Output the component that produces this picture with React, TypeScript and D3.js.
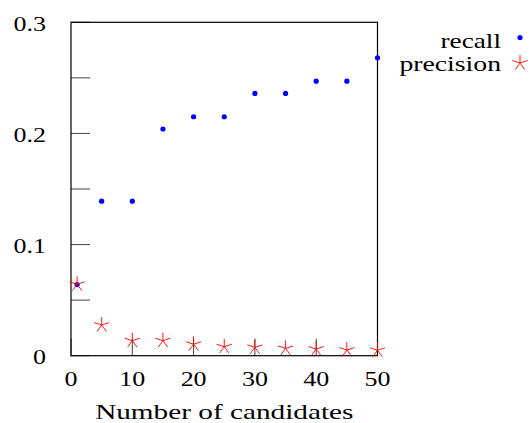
import { useEffect, useRef } from 'react'
import * as d3 from 'd3'

// candidate counts on the x axis
const candidates = [1, 5, 10, 15, 20, 25, 30, 35, 40, 45, 50]
const recall = [0.064, 0.139, 0.139, 0.204, 0.215, 0.215, 0.236, 0.236, 0.247, 0.247, 0.268]
const precision = [0.0643, 0.0276, 0.0135, 0.0135, 0.0103, 0.0081, 0.0075, 0.0066, 0.006, 0.0051, 0.0049]

const xTicks = [0, 10, 20, 30, 40, 50]
const yTicks = [0, 0.05, 0.1, 0.15, 0.2, 0.25, 0.3]
const yLabels = [0, 0.1, 0.2, 0.3]
const seriesNames = ['recall', 'precision']

const W = 532, H = 423
const M = { left: 71, right: 154.5, top: 22.3, bottom: 67.3 }
const FONT = 'Liberation Serif, serif'
const FS = 22

// 5-armed asterisk, like the gnuplot/tikz star mark
function starPath(cx: number, cy: number, r: number) {
  let d = ''
  for (let k = 0; k < 5; k++) {
    const a = -Math.PI / 2 + (k * 2 * Math.PI) / 5
    d += `M${cx},${cy}L${cx + r * Math.cos(a)},${cy + r * Math.sin(a)}`
  }
  return d
}

export default function App() {
  const ref = useRef<SVGSVGElement>(null)

  useEffect(() => {
    const svg = d3.select(ref.current)
    svg.selectAll('*').remove()

    const iw = W - M.left - M.right
    const ih = H - M.top - M.bottom
    const x = d3.scaleLinear().domain([0, 50]).range([M.left, M.left + iw])
    const y = d3.scaleLinear().domain([0, 0.3]).range([M.top + ih, M.top])

    // the source text is stretched horizontally, so squash/stretch per label
    const label = (tx: number, ty: number, s: string, anchor: string, sx: number) =>
      svg.append('text')
        .attr('transform', `translate(${tx},${ty}) scale(${sx},1)`)
        .attr('text-anchor', anchor)
        .attr('dominant-baseline', 'central')
        .attr('font-family', FONT).attr('font-size', FS)
        .attr('fill', '#000')
        .text(s)

    // ticks (inward)
    yTicks.forEach(t => {
      svg.append('line')
        .attr('x1', x(0)).attr('x2', x(0) + 19)
        .attr('y1', y(t)).attr('y2', y(t))
        .attr('stroke', '#444').attr('stroke-width', 1)
    })
    xTicks.forEach(t => {
      svg.append('line')
        .attr('x1', x(t)).attr('x2', x(t))
        .attr('y1', y(0)).attr('y2', y(0) - 17)
        .attr('stroke', '#444').attr('stroke-width', 1)
    })

    // frame
    svg.append('rect')
      .attr('x', x(0)).attr('y', y(0.3))
      .attr('width', iw).attr('height', ih)
      .attr('fill', 'none').attr('stroke', '#000').attr('stroke-width', 1.2)

    yLabels.forEach(t => label(46, y(t) + 1, String(t), 'end', 1.18))
    xTicks.forEach(t => label(x(t), y(0) + 23, String(t), 'middle', 1.18))
    label((x(0) + x(50)) / 2, 412, 'Number of candidates', 'middle', 1.33)

    // recall: filled blue dots
    svg.append('g').selectAll('circle')
      .data(candidates)
      .join('circle')
      .attr('cx', d => x(d))
      .attr('cy', (d, i) => y(recall[i]))
      .attr('r', 2.6)
      .attr('fill', '#0000ff')

    // precision: red stars
    svg.append('g').selectAll('path')
      .data(candidates)
      .join('path')
      .attr('d', (d, i) => starPath(x(d), y(precision[i]), 8))
      .attr('stroke', '#ff0000').attr('stroke-width', 0.9)
      .attr('fill', 'none')

    // legend
    label(501, 40, seriesNames[0], 'end', 1.24)
    svg.append('circle').attr('cx', 520).attr('cy', 37.5).attr('r', 2.6).attr('fill', '#0000ff')
    label(501, 64, seriesNames[1], 'end', 1.26)
    svg.append('path').attr('d', starPath(520, 63, 8))
      .attr('stroke', '#ff0000').attr('stroke-width', 0.9).attr('fill', 'none')
  }, [])

  return (
    <svg ref={ref} width={W} height={H}
      style={{ position: 'absolute', left: 0, top: 0, background: '#fff' }} />
  )
}
